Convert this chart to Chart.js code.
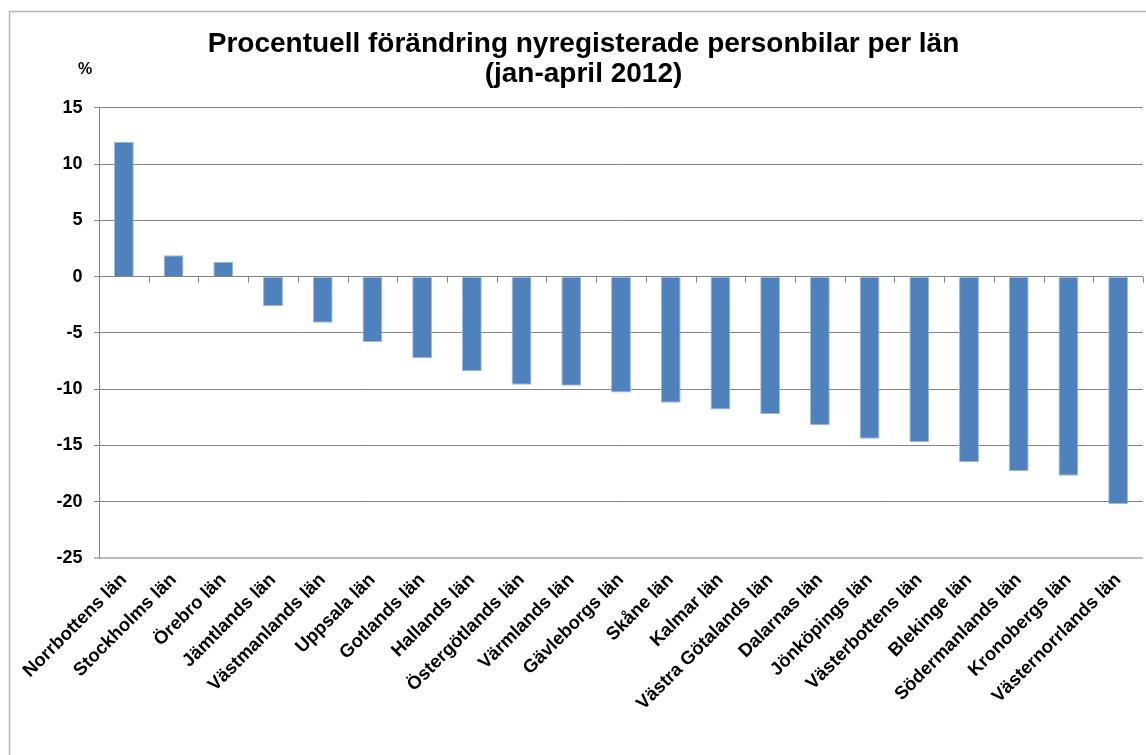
<!DOCTYPE html>
<html>
<head>
<meta charset="utf-8">
<script src="https://cdn.jsdelivr.net/npm/chart.js@4.4.1/dist/chart.umd.min.js"></script>
<style>
  body { margin: 0; background: #fff; }
  canvas { display: block; }
</style>
</head>
<body>
<canvas id="chart" width="1146" height="755"></canvas>
<script>
const categories = ['Norrbottens län', 'Stockholms län', 'Örebro län', 'Jämtlands län', 'Västmanlands län',
  'Uppsala län', 'Gotlands län', 'Hallands län', 'Östergötlands län', 'Värmlands län', 'Gävleborgs län',
  'Skåne län', 'Kalmar län', 'Västra Götalands län', 'Dalarnas län', 'Jönköpings län', 'Västerbottens län',
  'Blekinge län', 'Södermanlands län', 'Kronobergs län', 'Västernorrlands län']
const changes = [12.0, 1.9, 1.3, -2.6, -4.1, -5.8, -7.25, -8.4, -9.6, -9.7, -10.3,
  -11.2, -11.8, -12.2, -13.2, -14.4, -14.7, -16.5, -17.3, -17.7, -20.2]
const yMin = -25
const yMax = 15
const yStep = 5
const titleLines = ['Procentuell förändring nyregisterade personbilar per län', '(jan-april 2012)']
const unitLabel = '%'

const font = '"Liberation Sans", Arial, sans-serif'

// frame, % label and the small category ticks hanging from the zero line
const extras = {
  id: 'extras',
  beforeDraw(chart) {
    const c = chart.ctx
    c.save()
    c.strokeStyle = '#b4b4b4'
    c.lineWidth = 1.5
    c.strokeRect(9.5, 11.5, 1200, 800)
    c.restore()
  },
  afterDraw(chart) {
    const c = chart.ctx
    const x = chart.scales.x
    const y = chart.scales.y
    const y0 = y.getPixelForValue(0)
    const step = x.getPixelForValue(1) - x.getPixelForValue(0)
    c.save()
    c.strokeStyle = '#868686'
    c.lineWidth = 1
    for (let i = 0; i <= categories.length; i++) {
      const px = Math.round(x.getPixelForValue(i) - step / 2) + 0.5
      c.beginPath()
      c.moveTo(px, y0)
      c.lineTo(px, y0 + 6)
      c.stroke()
    }
    c.fillStyle = '#000'
    c.font = 'bold 16px ' + font
    c.textAlign = 'center'
    c.textBaseline = 'middle'
    c.fillText(unitLabel, 85, 70)
    c.restore()
  }
}

new Chart(document.querySelector('#chart'), {
  type: 'bar',
  data: {
    labels: categories,
    datasets: [{
      data: changes,
      backgroundColor: '#4F81BD',
      borderColor: '#9DB8DB',
      borderWidth: 1,
      barPercentage: 0.4,
      categoryPercentage: 1
    }]
  },
  options: {
    responsive: false,
    animation: false,
    layout: { padding: { left: 24, right: 3, top: 0, bottom: 0 } },
    plugins: {
      legend: { display: false },
      tooltip: { enabled: false },
      title: {
        display: true,
        text: titleLines,
        color: '#000',
        font: { family: font, size: 28, weight: 'bold', lineHeight: 1.08 },
        padding: { top: 29, bottom: 18.5 }
      }
    },
    scales: {
      x: {
        grid: { display: false, drawTicks: false },
        border: { display: false },
        ticks: {
          autoSkip: false,
          maxRotation: 45,
          minRotation: 45,
          padding: 11,
          color: '#000',
          font: { family: font, size: 18.5, weight: 'bold' }
        },
        afterFit(scale) { scale.height = 197 }
      },
      y: {
        min: yMin,
        max: yMax,
        ticks: {
          stepSize: yStep,
          padding: 11.5,
          color: '#000',
          font: { family: font, size: 18, weight: 'bold' }
        },
        grid: {
          color: ctx => ctx.tick && ctx.tick.value === yMin ? '#bcbcbc' : '#868686',
          lineWidth: ctx => ctx.tick && ctx.tick.value === yMin ? 2 : 1,
          tickLength: 5
        },
        border: { color: '#868686' },
        afterFit(scale) { scale.width = 75 }
      }
    }
  },
  plugins: [extras]
})
</script>
</body>
</html>
